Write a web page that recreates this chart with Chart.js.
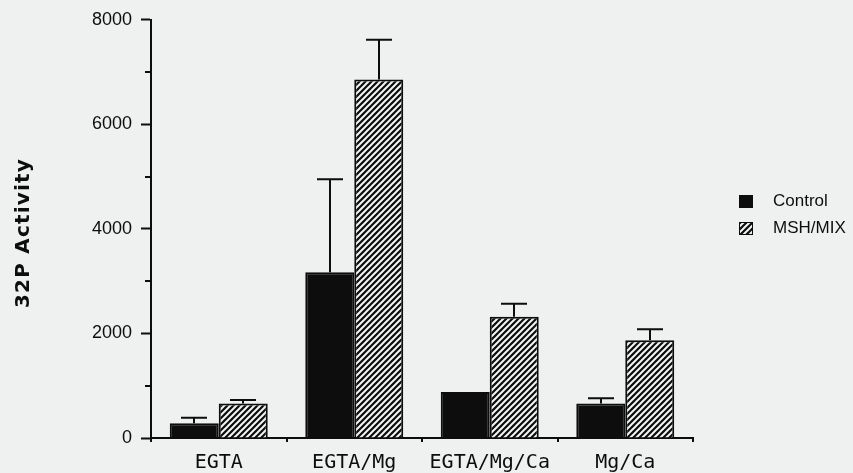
<!DOCTYPE html>
<html>
<head>
<meta charset="utf-8">
<script src="https://cdn.jsdelivr.net/npm/chart.js@4.4.1/dist/chart.umd.min.js"></script>
<style>
  html, body { margin: 0; padding: 0; background: #eff1f0; }
  #wrap { width: 853px; height: 473px; }
  canvas { display: block; }
</style>
</head>
<body>
<div id="wrap"><canvas id="c" width="853" height="473"></canvas></div>
<script>
// Conditions and series
const categories = ['EGTA', 'EGTA/Mg', 'EGTA/Mg/Ca', 'Mg/Ca'];
const seriesNames = ['Control', 'MSH/MIX'];
const controlValues = [280, 3170, 880, 660];
const controlErrors = [105, 1780, 0, 100];
const mshValues = [660, 6860, 2320, 1870];
const mshErrors = [65, 760, 250, 210];
const yTickLabels = [0, 2000, 4000, 6000, 8000];
const yTitle = '32P Activity';

const INK = '#0d0d0d';
const canvas = document.getElementById('c');
const ctx = canvas.getContext('2d');

// Diagonal "/" hatch used for the treated series
function makeHatch(target) {
  const s = 6;
  const tile = document.createElement('canvas');
  tile.width = s; tile.height = s;
  const g = tile.getContext('2d');
  g.fillStyle = INK;
  g.fillRect(0, 0, s, s);
  g.strokeStyle = '#f3f5f4';
  g.lineWidth = 2;
  g.beginPath();
  g.moveTo(-1, s + 1); g.lineTo(s + 1, -1);
  g.moveTo(-1, 1); g.lineTo(1, -1);
  g.moveTo(s - 1, s + 1); g.lineTo(s + 1, s - 1);
  g.stroke();
  return target.createPattern(tile, 'repeat');
}
const hatch = makeHatch(ctx);

// One-sided (upper) error bars
const errorBars = {
  id: 'errorBars',
  afterDatasetsDraw(chart) {
    const c = chart.ctx, y = chart.scales.y;
    c.save();
    c.strokeStyle = INK;
    c.lineWidth = 2;
    chart.data.datasets.forEach((ds, i) => {
      chart.getDatasetMeta(i).data.forEach((bar, j) => {
        const e = ds.errors[j];
        if (!e) return;
        const x = Math.round(bar.x);
        const y0 = y.getPixelForValue(ds.data[j]);
        const y1 = y.getPixelForValue(ds.data[j] + e);
        c.beginPath();
        c.moveTo(x, y0); c.lineTo(x, y1);
        c.moveTo(x - 13, y1); c.lineTo(x + 13, y1);
        c.stroke();
      });
    });
    c.restore();
  }
};

// Short minor ticks, rotated axis title and the side legend
const decorations = {
  id: 'decorations',
  afterDraw(chart) {
    const c = chart.ctx, y = chart.scales.y, left = chart.chartArea.left;
    c.save();
    c.strokeStyle = INK;
    c.lineWidth = 2;
    for (let v = 1000; v < 8000; v += 2000) {
      const py = Math.round(y.getPixelForValue(v));
      c.beginPath(); c.moveTo(left - 6, py); c.lineTo(left, py); c.stroke();
    }

    c.fillStyle = INK;
    c.translate(24, 233);
    c.rotate(-Math.PI / 2);
    c.font = 'bold 20px "DejaVu Sans"';
    c.letterSpacing = '1.2px';
    c.textAlign = 'center';
    c.textBaseline = 'middle';
    c.fillText(yTitle, 0, 0);
    c.restore();

    c.save();
    const fills = chart.data.datasets.map(d => d.backgroundColor);
    const boxY = [195, 222];
    const textY = [201, 228];
    c.font = '17px "Liberation Sans", Arial, sans-serif';
    c.textBaseline = 'middle';
    chart.data.datasets.forEach((ds, i) => {
      c.fillStyle = fills[i];
      c.fillRect(739, boxY[i], 14, 13);
      c.strokeStyle = INK; c.lineWidth = 1;
      c.strokeRect(739.5, boxY[i] + 0.5, 13, 12);
      c.fillStyle = INK;
      c.fillText(ds.label, 773, textY[i]);
    });
    c.restore();
  }
};

new Chart(ctx, {
  type: 'bar',
  data: {
    labels: categories,
    datasets: [
      { label: seriesNames[0], data: controlValues, errors: controlErrors,
        backgroundColor: INK, borderColor: INK, borderWidth: 2,
        categoryPercentage: 0.723, barPercentage: 1 },
      { label: seriesNames[1], data: mshValues, errors: mshErrors,
        backgroundColor: hatch, borderColor: INK, borderWidth: 2,
        categoryPercentage: 0.723, barPercentage: 1 }
    ]
  },
  options: {
    responsive: false,
    animation: false,
    devicePixelRatio: 1,
    layout: { padding: { top: 16, right: 160, left: 0, bottom: 0 } },
    plugins: { legend: { display: false }, tooltip: { enabled: false } },
    scales: {
      x: {
        grid: { display: true, drawOnChartArea: false, offset: true, color: INK, lineWidth: 2, tickLength: 4 },
        border: { color: INK, width: 2 },
        ticks: { font: { family: '"DejaVu Sans Mono"', size: 20 }, color: INK, padding: 9 },
        afterFit(s) { s.height = 35; }
      },
      y: {
        min: 0, max: 8000,
        grid: {
          drawOnChartArea: false, tickLength: 10, tickWidth: 2,
          tickColor: (c) => (c.tick && c.tick.value % 2000 === 0) ? INK : 'rgba(0,0,0,0)'
        },
        border: { color: INK, width: 2 },
        ticks: {
          stepSize: 1000,
          autoSkip: false,
          callback: (v) => yTickLabels.includes(v) ? String(v) : '',
          font: { family: '"Liberation Sans", Arial, sans-serif', size: 18 },
          color: INK, padding: 9
        },
        afterFit(s) { s.width = 151; }
      }
    }
  },
  plugins: [errorBars, decorations]
});
</script>
</body>
</html>
